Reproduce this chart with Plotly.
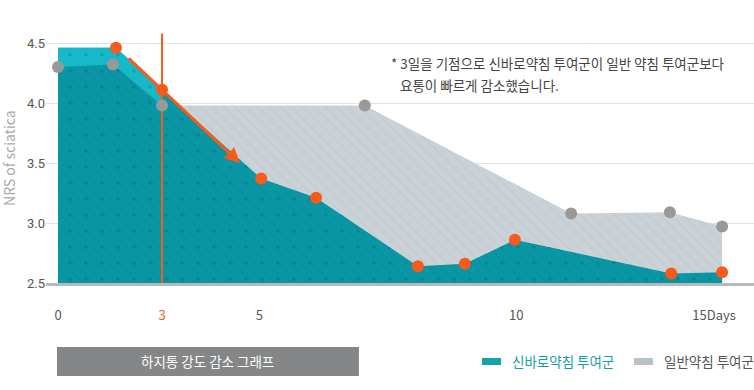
import plotly.graph_objects as go

# ---- data (x in chart day-units, y = NRS) ----
sinbaro_days = [0, 1.31, 2.35, 4.59, 5.83, 8.13, 9.19, 10.32, 13.85, 15.0]
sinbaro_vals = [4.46, 4.46, 4.11, 3.37, 3.21, 2.64, 2.66, 2.86, 2.58, 2.59]

general_days = [0, 1.24, 2.35, 6.93, 11.59, 13.82, 15.0]
general_vals = [4.30, 4.32, 3.98, 3.98, 3.08, 3.09, 2.97]

tick_days = [0, 2.35, 4.55, 10.35, 14.82]
tick_labels = ["0", "3", "5", "10", "15Days"]
y_ticks = [2.5, 3.0, 3.5, 4.0, 4.5]

series_names = ["신바로약침 투여군", "일반약침 투여군"]
note_line1 = "* 3일을 기점으로 신바로약침 투여군이 일반 약침 투여군보다"
note_line2 = "요통이 빠르게 감소했습니다."
box_title = "하지통 강도 감소 그래프"
y_title = "NRS of sciatica"

ORANGE = "#f85a1c"
CYAN = "#17b8c8"
DTEAL = "#0a97a5"
LGRAY = "#cbd2d7"
MGRAY = "#999999"
KFONT = "Noto Sans CJK KR"

fig = go.Figure()

# gray (general) area
fig.add_trace(go.Scatter(
    x=general_days, y=general_vals, mode="lines", fill="tozeroy",
    line=dict(width=0, color="rgba(0,0,0,0)"), fillcolor=LGRAY,
    fillpattern=dict(shape="\\", fgcolor="#b4bdc3", size=8, solidity=0.12, fillmode="overlay"),
    hoverinfo="skip", showlegend=False))

# teal (sinbaro) area - dark teal with diagonal lines
fig.add_trace(go.Scatter(
    x=sinbaro_days, y=sinbaro_vals, mode="lines", fill="tozeroy",
    line=dict(width=0, color="rgba(0,0,0,0)"), fillcolor=DTEAL,
    fillpattern=dict(shape="\\", fgcolor="#07838f", size=8, solidity=0.12, fillmode="overlay"),
    hoverinfo="skip", showlegend=False))
# teal dots overlay
fig.add_trace(go.Scatter(
    x=sinbaro_days, y=sinbaro_vals, mode="lines", fill="tozeroy",
    line=dict(width=0, color="rgba(0,0,0,0)"), fillcolor="rgba(0,0,0,0)",
    fillpattern=dict(shape=".", fgcolor="#076f7a", size=16, solidity=0.04, fillmode="overlay"),
    hoverinfo="skip", showlegend=False))

# bright cyan where sinbaro is above general (first segment)
fig.add_trace(go.Scatter(
    x=general_days[:3], y=general_vals[:3], mode="lines",
    line=dict(width=0, color="rgba(0,0,0,0)"), hoverinfo="skip", showlegend=False))
fig.add_trace(go.Scatter(
    x=sinbaro_days[:3], y=sinbaro_vals[:3], mode="lines", fill="tonexty",
    line=dict(width=0, color="rgba(0,0,0,0)"), fillcolor=CYAN,
    fillpattern=dict(shape=".", fgcolor="#0c8c99", size=16, solidity=0.04, fillmode="overlay"),
    hoverinfo="skip", showlegend=False))

# day-3 marker line
fig.add_trace(go.Scatter(
    x=[tick_days[1], tick_days[1]], y=[2.5, 4.58], mode="lines",
    line=dict(width=2, color=ORANGE), hoverinfo="skip", showlegend=False))

# markers
fig.add_trace(go.Scatter(
    x=general_days, y=general_vals, mode="markers",
    marker=dict(size=12, color=MGRAY), name=series_names[1], showlegend=False))
fig.add_trace(go.Scatter(
    x=sinbaro_days[1:], y=sinbaro_vals[1:], mode="markers",
    marker=dict(size=12, color=ORANGE), name=series_names[0], showlegend=False))

ticktext = [t if t != "3" else "<span style='color:%s'>3</span>" % ORANGE for t in tick_labels]

fig.update_layout(
    width=754, height=390,
    margin=dict(l=46, r=0, t=31, b=107, autoexpand=False),
    paper_bgcolor="white", plot_bgcolor="white",
    font=dict(family=KFONT, color="#555555", size=13),
    xaxis=dict(range=[-0.271, 15.72], tickvals=tick_days, ticktext=ticktext, automargin=False,
               showgrid=False, zeroline=False, showline=True, linecolor="#b9b9b9",
               linewidth=3, ticks="outside", ticklen=18, tickcolor="rgba(0,0,0,0)",
               tickfont=dict(family=KFONT, size=13, color="#555555")),
    yaxis=dict(range=[2.5, 4.6], tickvals=y_ticks, ticktext=["%.1f" % v for v in y_ticks],
               automargin=False,
               showgrid=True, gridcolor="#e2e2e2", gridwidth=1, zeroline=False,
               ticks="", tickfont=dict(family="Roboto", size=13, color="#555555")),
    showlegend=False,
)

# arrow
fig.add_annotation(x=4.11, y=3.5, ax=1.56, ay=4.383, axref="x", ayref="y", xref="x", yref="y",
                   text="", showarrow=True, arrowhead=2, arrowsize=1, arrowwidth=3,
                   arrowcolor=ORANGE, standoff=0, startstandoff=0)

# note text
fig.add_annotation(x=0.4845, y=0.873, xref="paper", yref="paper", xanchor="left", yanchor="middle",
                   text=note_line1, showarrow=False, font=dict(family=KFONT, size=13.5, color="#444444"))
fig.add_annotation(x=0.497, y=0.786, xref="paper", yref="paper", xanchor="left", yanchor="middle",
                   text=note_line2, showarrow=False, font=dict(family=KFONT, size=13.5, color="#444444"))

# y title
fig.add_annotation(x=-0.0523, y=0.496, xref="paper", yref="paper", text=y_title, textangle=-90,
                   showarrow=False, xanchor="center", yanchor="middle",
                   font=dict(family=KFONT, size=14, color="#aaaaaa"))

# bottom box
fig.add_shape(type="rect", xref="paper", yref="paper", x0=0.0155, x1=0.442, y0=-0.369, y1=-0.254,
              fillcolor="#858687", line=dict(width=0), layer="below")
fig.add_annotation(x=0.2288, y=-0.3115, xref="paper", yref="paper", xanchor="center", yanchor="middle",
                   text=box_title, showarrow=False,
                   font=dict(family=KFONT, size=13.5, color="white"))

# legend (manual)
fig.add_shape(type="rect", xref="paper", yref="paper", x0=0.6158, x1=0.6427, y0=-0.3254, y1=-0.2976,
              fillcolor="#13a3a8", line=dict(width=0))
fig.add_annotation(x=0.6554, y=-0.3115, xref="paper", yref="paper", xanchor="left", yanchor="middle",
                   text=series_names[0],
                   showarrow=False, font=dict(family=KFONT, size=13.5, color="#16a0a6"))
fig.add_shape(type="rect", xref="paper", yref="paper", x0=0.8305, x1=0.8573, y0=-0.3254, y1=-0.2976,
              fillcolor="#b8c1c8", line=dict(width=0))
fig.add_annotation(x=0.870, y=-0.3115, xref="paper", yref="paper", xanchor="left", yanchor="middle",
                   text=series_names[1],
                   showarrow=False, font=dict(family=KFONT, size=13.5, color="#555555"))

fig.write_html("out.html", config={"displayModeBar": False},
               post_script="document.body.style.margin='0';")
